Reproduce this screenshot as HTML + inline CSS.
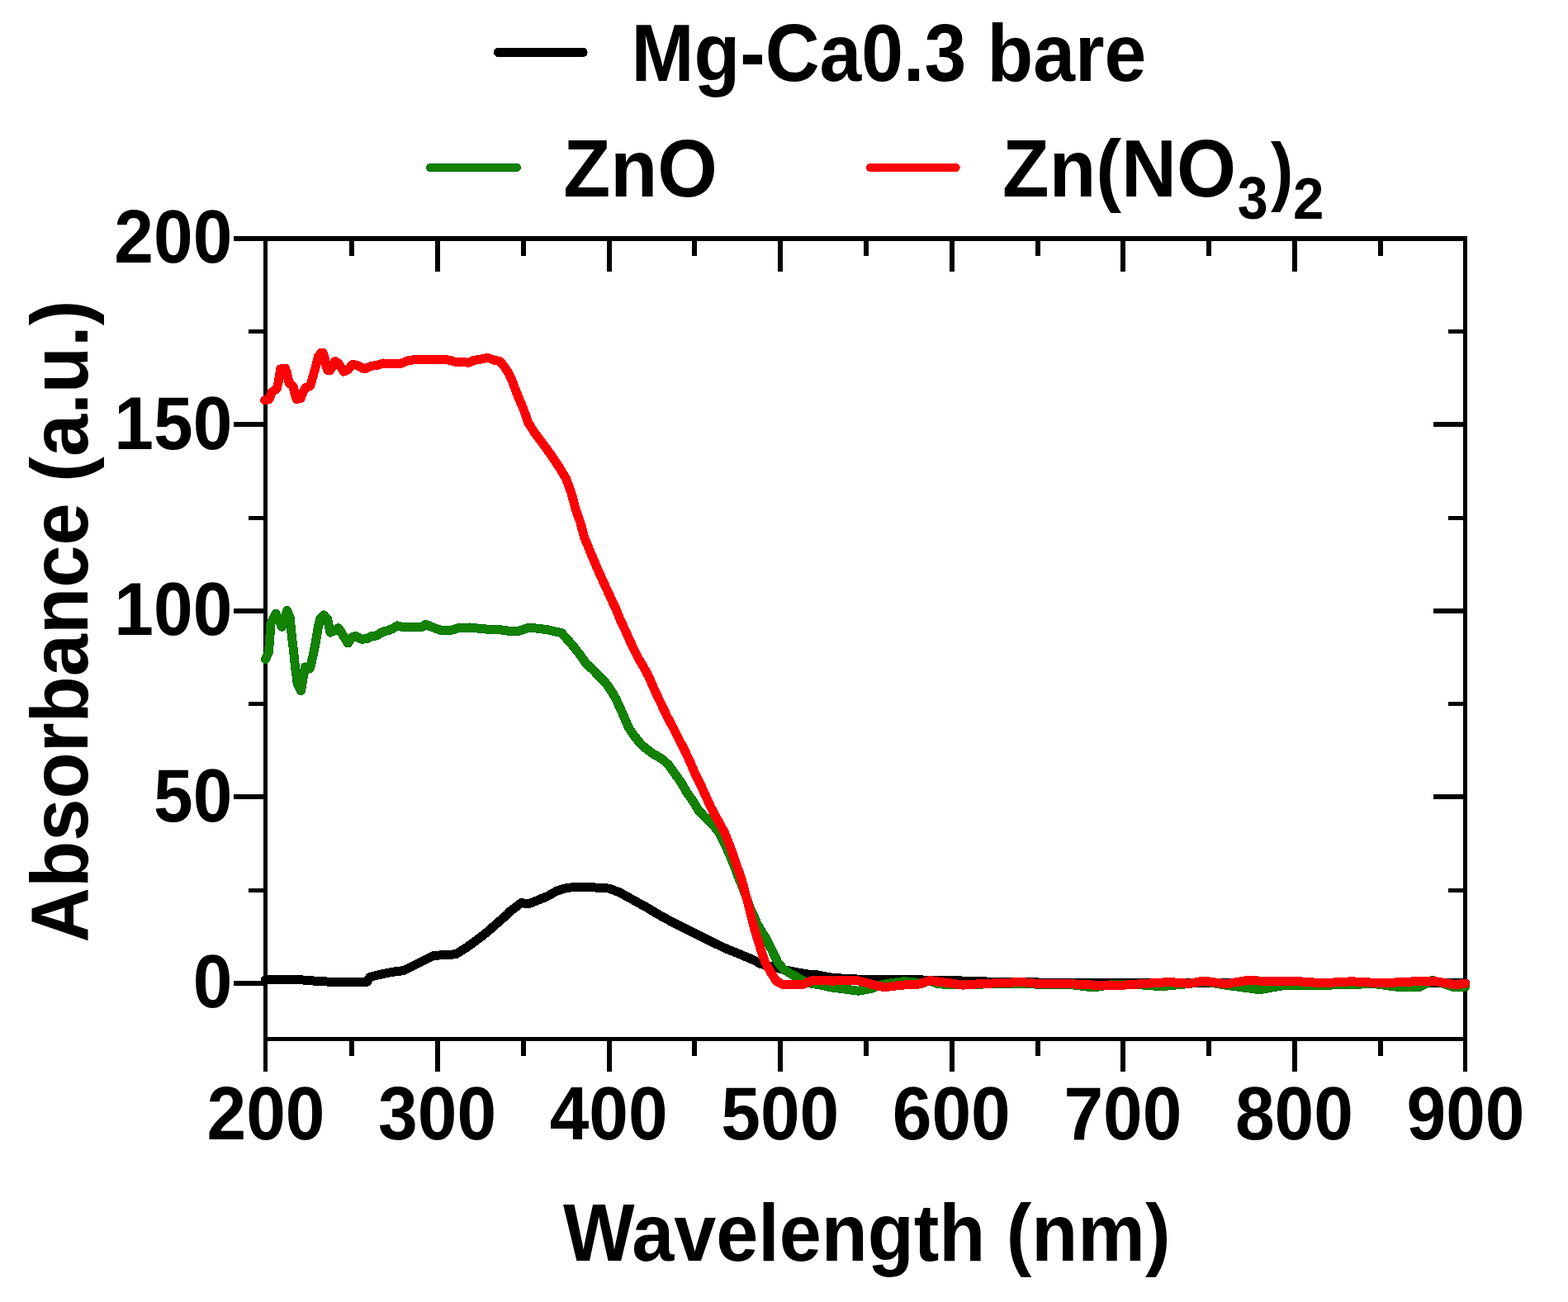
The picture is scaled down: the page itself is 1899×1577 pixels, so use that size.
<!DOCTYPE html>
<html><head><meta charset="utf-8"><title>Absorbance vs Wavelength</title>
<style>html,body{margin:0;padding:0;background:#fff;overflow:hidden;}svg{display:block;}
text{font-family:"Liberation Sans",Arial,sans-serif;font-weight:bold;font-size:100px;fill:#000;}</style></head>
<body><svg width="1899" height="1577" viewBox="0 0 1899 1577">
<rect width="1899" height="1577" fill="#fff"/>
<g fill="#000">
<rect x="319" y="286" width="1458" height="6"/>
<rect x="319" y="1256" width="1458" height="5"/>
<rect x="319" y="286" width="5" height="1012"/>
<rect x="1772" y="286" width="5" height="1012"/>
<rect x="283" y="1188" width="36" height="6"/>
<rect x="1736" y="1188" width="36" height="6"/>
<rect x="301" y="1076" width="18" height="5"/>
<rect x="1754" y="1076" width="18" height="5"/>
<rect x="283" y="962" width="36" height="6"/>
<rect x="1736" y="962" width="36" height="6"/>
<rect x="301" y="850" width="18" height="5"/>
<rect x="1754" y="850" width="18" height="5"/>
<rect x="283" y="737" width="36" height="6"/>
<rect x="1736" y="737" width="36" height="6"/>
<rect x="301" y="625" width="18" height="5"/>
<rect x="1754" y="625" width="18" height="5"/>
<rect x="283" y="511" width="36" height="6"/>
<rect x="1736" y="511" width="36" height="6"/>
<rect x="301" y="399" width="18" height="5"/>
<rect x="1754" y="399" width="18" height="5"/>
<rect x="283" y="286" width="36" height="6"/>
<rect x="1736" y="286" width="36" height="6"/>
<rect x="423" y="1261" width="6" height="18"/>
<rect x="423" y="292" width="6" height="18"/>
<rect x="527" y="1261" width="6" height="37"/>
<rect x="527" y="292" width="6" height="37"/>
<rect x="631" y="1261" width="6" height="18"/>
<rect x="631" y="292" width="6" height="18"/>
<rect x="735" y="1261" width="6" height="37"/>
<rect x="735" y="292" width="6" height="37"/>
<rect x="838" y="1261" width="6" height="18"/>
<rect x="838" y="292" width="6" height="18"/>
<rect x="942" y="1261" width="6" height="37"/>
<rect x="942" y="292" width="6" height="37"/>
<rect x="1046" y="1261" width="6" height="18"/>
<rect x="1046" y="292" width="6" height="18"/>
<rect x="1150" y="1261" width="6" height="37"/>
<rect x="1150" y="292" width="6" height="37"/>
<rect x="1254" y="1261" width="6" height="18"/>
<rect x="1254" y="292" width="6" height="18"/>
<rect x="1357" y="1261" width="6" height="37"/>
<rect x="1357" y="292" width="6" height="37"/>
<rect x="1461" y="1261" width="6" height="18"/>
<rect x="1461" y="292" width="6" height="18"/>
<rect x="1565" y="1261" width="6" height="37"/>
<rect x="1565" y="292" width="6" height="37"/>
<rect x="1669" y="1261" width="6" height="18"/>
<rect x="1669" y="292" width="6" height="18"/>
<text transform="translate(281.30,1220.30) scale(0.8570,0.9030)" text-anchor="end">0</text>
<text transform="translate(281.30,994.77) scale(0.8570,0.9030)" text-anchor="end">50</text>
<text transform="translate(281.30,769.25) scale(0.8570,0.9030)" text-anchor="end">100</text>
<text transform="translate(281.30,543.72) scale(0.8570,0.9030)" text-anchor="end">150</text>
<text transform="translate(281.30,318.20) scale(0.8570,0.9030)" text-anchor="end">200</text>
<text transform="translate(322.00,1380.10) scale(0.8570,0.9030)" text-anchor="middle">200</text>
<text transform="translate(529.57,1380.10) scale(0.8570,0.9030)" text-anchor="middle">300</text>
<text transform="translate(737.14,1380.10) scale(0.8570,0.9030)" text-anchor="middle">400</text>
<text transform="translate(944.71,1380.10) scale(0.8570,0.9030)" text-anchor="middle">500</text>
<text transform="translate(1152.29,1380.10) scale(0.8570,0.9030)" text-anchor="middle">600</text>
<text transform="translate(1359.86,1380.10) scale(0.8570,0.9030)" text-anchor="middle">700</text>
<text transform="translate(1567.43,1380.10) scale(0.8570,0.9030)" text-anchor="middle">800</text>
<text transform="translate(1775.00,1380.10) scale(0.8570,0.9030)" text-anchor="middle">900</text>
<text transform="translate(682.00,1527.00) scale(0.9173,0.9855)">Wavelength (nm)</text>
<text transform="translate(106.00,1141.56) rotate(-90) scale(0.9211,0.9840)">Absorbance (a.u.)</text>
<text transform="translate(764.60,97.90) scale(0.9123,0.9840)">Mg-Ca0.3 bare</text>
<text transform="translate(682.20,237.90) scale(0.9332,0.9840)">ZnO</text>
<text transform="translate(1214.07,237.90) scale(0.9263,0.9870)">Zn(NO</text>
<text transform="translate(1498.67,265.18) scale(0.6640,0.7170)">3</text>
<text transform="translate(1539.00,237.66) scale(0.8210,0.9255)">)</text>
<text transform="translate(1565.98,264.90) scale(0.6730,0.7130)">2</text>
</g>
<line x1="603.2" y1="63.4" x2="706.1" y2="63.4" stroke="#000" stroke-width="11" stroke-linecap="round" shape-rendering="crispEdges"/>
<line x1="520.9" y1="202.9" x2="626" y2="202.9" stroke="#007200" stroke-width="10" stroke-linecap="round" shape-rendering="crispEdges"/>
<line x1="520.9" y1="202.9" x2="626" y2="202.9" stroke="#138204" stroke-width="8" stroke-linecap="round" shape-rendering="crispEdges"/>
<line x1="1054" y1="202.95" x2="1157.7" y2="202.95" stroke="#FA0306" stroke-width="10" stroke-linecap="round" shape-rendering="crispEdges"/>
<path d="M321.5,1186.6 L367.1,1187.0 L387.7,1188.7 L408.2,1189.5 L425.6,1189.8 L444.5,1189.3 L447.7,1183.5 L457.2,1181.1 L473.0,1177.6 L488.8,1175.6 L501.4,1169.3 L515.6,1162.2 L525.1,1157.4 L552.0,1155.8 L564.6,1147.9 L575.7,1140.0 L589.9,1129.0 L602.5,1117.9 L615.0,1106.9 L615.8,1105.3 L631.6,1093.4 L639.5,1095.0 L647.4,1091.9 L663.2,1085.5 L674.2,1079.2 L686.9,1075.3 L697.9,1074.5 L710.6,1074.5 L726.4,1075.3 L737.4,1076.1 L750.1,1080.8 L765.9,1089.5 L781.7,1098.2 L797.5,1107.7 L813.3,1116.4 L829.1,1124.2 L844.9,1132.1 L860.7,1140.0 L876.5,1147.8 L892.1,1154.1 L913.2,1163.0 L921.6,1167.6 L953.2,1175.4 L966.1,1178.0 L979.0,1180.0 L988.9,1180.7 L1004.1,1183.7 L1014.4,1184.8 L1046.1,1186.4 L1140.0,1187.2 L1200.0,1189.2 L1300.0,1190.6 L1440.0,1190.8 L1600.0,1190.5 L1774.5,1190.5" fill="none" stroke="#000" stroke-width="11" stroke-linejoin="round" stroke-linecap="round" shape-rendering="crispEdges"/>
<path d="M321.5,798.7 L325.2,790.4 L326.4,778.3 L326.9,770.7 L327.9,755.4 L334.0,743.3 L341.4,759.2 L347.7,739.5 L351.1,747.8 L353.4,770.7 L355.7,789.7 L357.6,808.7 L360.2,827.7 L364.4,836.9 L366.7,823.9 L369.4,808.0 L375.4,809.5 L379.3,793.5 L382.3,778.3 L385.0,761.5 L387.6,750.1 L392.2,744.9 L396.8,750.1 L399.8,766.1 L405.1,763.8 L410.0,760.8 L421.4,779.0 L426.6,771.6 L430.9,770.6 L438.2,774.2 L444.5,773.7 L450.9,770.3 L456.1,770.0 L462.4,765.8 L469.8,763.7 L475.1,761.6 L481.4,757.9 L487.7,759.5 L509.8,760.0 L515.0,756.9 L510.3,759.5 L515.5,756.3 L521.9,759.0 L534.5,763.7 L547.1,763.2 L555.6,760.5 L568.2,760.0 L578.7,761.1 L589.3,762.1 L605.1,762.7 L615.6,764.2 L628.2,764.2 L639.8,760.5 L650.3,761.1 L663.0,762.7 L673.5,765.3 L679.8,766.3 L687.6,775.0 L695.2,783.8 L702.8,793.6 L710.4,804.3 L718.0,811.1 L725.7,819.1 L733.3,826.7 L740.9,837.8 L746.0,846.5 L750.0,855.4 L755.7,868.0 L761.0,880.7 L767.3,890.2 L774.9,899.7 L778.0,902.9 L784.4,908.3 L790.7,913.0 L797.1,916.5 L803.4,920.6 L809.7,926.4 L817.9,938.0 L824.9,947.7 L831.9,959.9 L838.8,969.6 L845.8,981.1 L852.6,988.5 L859.0,994.2 L869.9,1006.6 L875.1,1017.1 L879.8,1026.6 L884.1,1036.1 L887.9,1045.6 L891.7,1055.1 L895.1,1064.6 L899.3,1074.1 L902.7,1083.6 L906.0,1093.1 L909.0,1101.4 L912.8,1109.0 L917.6,1120.4 L927.1,1135.7 L934.9,1150.9 L942.1,1166.1 L948.6,1173.7 L958.5,1179.8 L966.1,1184.0 L973.7,1188.2 L981.3,1191.0 L996.5,1193.6 L1006.0,1195.8 L1015.8,1197.0 L1039.5,1200.2 L1055.3,1197.4 L1063.2,1194.2 L1071.1,1191.9 L1079.0,1190.7 L1094.8,1188.7 L1106.6,1189.5 L1116.9,1191.1 L1126.4,1187.5 L1134.3,1191.1 L1146.0,1192.6 L1155.8,1192.9 L1191.6,1192.0 L1236.4,1191.2 L1272.2,1192.9 L1299.0,1192.9 L1324.1,1196.0 L1343.8,1192.9 L1370.7,1192.0 L1406.5,1194.7 L1440.0,1191.5 L1458.0,1188.8 L1485.0,1193.3 L1526.0,1198.7 L1556.0,1193.3 L1601.0,1193.3 L1637.0,1192.4 L1664.0,1191.5 L1691.0,1195.1 L1718.0,1196.0 L1735.0,1187.2 L1762.0,1196.0 L1774.5,1195.0" fill="none" stroke="#007200" stroke-width="11" stroke-linejoin="round" stroke-linecap="round" shape-rendering="crispEdges"/>
<path d="M321.5,798.7 L325.2,790.4 L326.4,778.3 L326.9,770.7 L327.9,755.4 L334.0,743.3 L341.4,759.2 L347.7,739.5 L351.1,747.8 L353.4,770.7 L355.7,789.7 L357.6,808.7 L360.2,827.7 L364.4,836.9 L366.7,823.9 L369.4,808.0 L375.4,809.5 L379.3,793.5 L382.3,778.3 L385.0,761.5 L387.6,750.1 L392.2,744.9 L396.8,750.1 L399.8,766.1 L405.1,763.8 L410.0,760.8 L421.4,779.0 L426.6,771.6 L430.9,770.6 L438.2,774.2 L444.5,773.7 L450.9,770.3 L456.1,770.0 L462.4,765.8 L469.8,763.7 L475.1,761.6 L481.4,757.9 L487.7,759.5 L509.8,760.0 L515.0,756.9 L510.3,759.5 L515.5,756.3 L521.9,759.0 L534.5,763.7 L547.1,763.2 L555.6,760.5 L568.2,760.0 L578.7,761.1 L589.3,762.1 L605.1,762.7 L615.6,764.2 L628.2,764.2 L639.8,760.5 L650.3,761.1 L663.0,762.7 L673.5,765.3 L679.8,766.3 L687.6,775.0 L695.2,783.8 L702.8,793.6 L710.4,804.3 L718.0,811.1 L725.7,819.1 L733.3,826.7 L740.9,837.8 L746.0,846.5 L750.0,855.4 L755.7,868.0 L761.0,880.7 L767.3,890.2 L774.9,899.7 L778.0,902.9 L784.4,908.3 L790.7,913.0 L797.1,916.5 L803.4,920.6 L809.7,926.4 L817.9,938.0 L824.9,947.7 L831.9,959.9 L838.8,969.6 L845.8,981.1 L852.6,988.5 L859.0,994.2 L869.9,1006.6 L875.1,1017.1 L879.8,1026.6 L884.1,1036.1 L887.9,1045.6 L891.7,1055.1 L895.1,1064.6 L899.3,1074.1 L902.7,1083.6 L906.0,1093.1 L909.0,1101.4 L912.8,1109.0 L917.6,1120.4 L927.1,1135.7 L934.9,1150.9 L942.1,1166.1 L948.6,1173.7 L958.5,1179.8 L966.1,1184.0 L973.7,1188.2 L981.3,1191.0 L996.5,1193.6 L1006.0,1195.8 L1015.8,1197.0 L1039.5,1200.2 L1055.3,1197.4 L1063.2,1194.2 L1071.1,1191.9 L1079.0,1190.7 L1094.8,1188.7 L1106.6,1189.5 L1116.9,1191.1 L1126.4,1187.5 L1134.3,1191.1 L1146.0,1192.6 L1155.8,1192.9 L1191.6,1192.0 L1236.4,1191.2 L1272.2,1192.9 L1299.0,1192.9 L1324.1,1196.0 L1343.8,1192.9 L1370.7,1192.0 L1406.5,1194.7 L1440.0,1191.5 L1458.0,1188.8 L1485.0,1193.3 L1526.0,1198.7 L1556.0,1193.3 L1601.0,1193.3 L1637.0,1192.4 L1664.0,1191.5 L1691.0,1195.1 L1718.0,1196.0 L1735.0,1187.2 L1762.0,1196.0 L1774.5,1195.0" fill="none" stroke="#138204" stroke-width="9" stroke-linejoin="round" stroke-linecap="round" shape-rendering="crispEdges"/>
<path d="M320.6,484.9 L326.0,483.5 L329.4,474.9 L335.1,470.9 L337.4,461.8 L339.7,447.0 L345.4,446.1 L347.4,451.5 L350.0,463.5 L355.1,468.1 L357.4,477.8 L359.1,483.5 L364.2,482.4 L367.1,474.9 L369.9,469.8 L375.6,467.5 L378.5,457.8 L381.9,445.8 L385.3,432.1 L388.8,427.3 L391.1,427.3 L393.3,433.8 L395.0,443.5 L396.8,448.4 L400.0,448.4 L405.6,437.6 L409.8,440.0 L416.1,450.0 L421.4,447.9 L426.6,441.6 L431.9,442.1 L435.1,443.7 L441.4,446.9 L449.8,443.2 L456.1,442.6 L464.6,440.0 L473.0,440.8 L485.6,440.3 L494.0,436.9 L500.4,435.8 L515.0,435.8 L515.5,435.8 L529.2,435.3 L544.0,436.1 L552.4,438.6 L568.2,439.1 L573.5,436.5 L580.8,435.3 L590.8,433.4 L599.8,436.5 L605.1,437.6 L610.3,443.2 L616.1,452.1 L620.9,462.7 L624.7,473.2 L627.2,479.5 L634.1,495.9 L639.6,511.7 L647.6,524.4 L657.1,537.1 L666.6,549.8 L676.1,564.0 L685.6,579.9 L692.0,597.3 L696.7,614.8 L703.1,633.8 L707.8,651.2 L715.7,670.3 L723.7,689.3 L731.6,706.7 L747.0,740.0 L751.5,751.4 L756.9,762.8 L762.0,774.2 L767.3,785.7 L773.0,797.1 L779.8,808.5 L785.9,819.9 L790.7,831.0 L796.0,842.7 L802.1,855.4 L808.0,868.0 L814.0,879.0 L821.5,894.0 L828.7,907.9 L835.3,921.9 L841.3,935.8 L848.2,949.8 L854.5,963.7 L860.9,977.7 L867.4,990.0 L877.1,1007.5 L884.7,1026.6 L891.3,1045.6 L898.0,1064.6 L904.8,1090.0 L912.4,1120.4 L921.6,1150.9 L926.9,1166.1 L935.7,1181.3 L940.2,1188.2 L947.1,1192.1 L973.7,1192.1 L979.8,1188.9 L985.1,1187.4 L1000.0,1187.0 L1007.9,1188.3 L1015.8,1187.1 L1037.1,1187.5 L1049.0,1190.3 L1063.2,1194.2 L1071.1,1195.8 L1082.9,1194.2 L1094.8,1193.0 L1110.6,1192.6 L1126.4,1187.5 L1134.3,1188.7 L1146.9,1190.4 L1166.6,1193.1 L1191.6,1191.3 L1209.5,1190.8 L1236.4,1189.5 L1263.2,1191.9 L1299.0,1191.9 L1343.8,1194.0 L1361.7,1193.1 L1388.6,1191.3 L1415.4,1189.5 L1440.0,1191.3 L1458.0,1188.1 L1485.0,1191.9 L1512.0,1187.2 L1538.0,1189.0 L1565.0,1188.1 L1601.0,1190.8 L1637.0,1188.8 L1673.0,1190.8 L1709.0,1189.0 L1735.0,1188.1 L1762.0,1192.6 L1774.5,1191.3" fill="none" stroke="#FA0306" stroke-width="11" stroke-linejoin="round" stroke-linecap="round" shape-rendering="crispEdges"/>
</svg></body></html>
